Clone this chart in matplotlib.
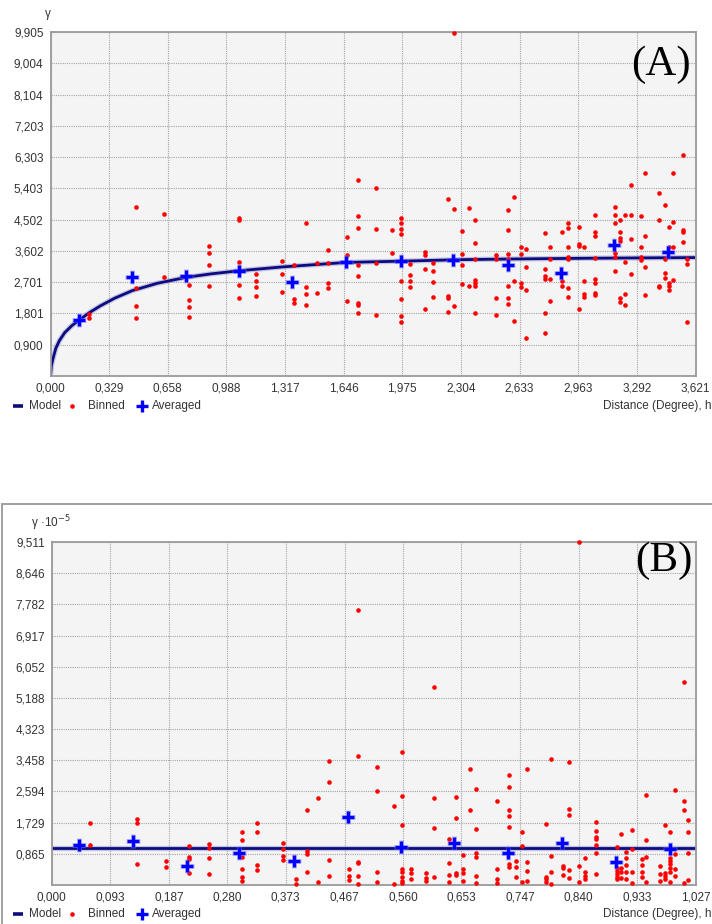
import matplotlib
matplotlib.use('Agg')
import matplotlib.pyplot as plt
import numpy as np
from matplotlib.lines import Line2D
from matplotlib.patches import Rectangle

plt.rcParams['font.family'] = ['Liberation Sans', 'DejaVu Sans']

# ---------------- Panel A data ----------------
xticks_a = [0.000, 0.329, 0.658, 0.988, 1.317, 1.646, 1.975, 2.304, 2.633, 2.963, 3.292, 3.621]
yticks_a = [0.900, 1.801, 2.701, 3.602, 4.502, 5.403, 6.303, 7.203, 8.104, 9.004, 9.905]

model_a_h = [0, 0.005, 0.015, 0.03, 0.05, 0.08, 0.12, 0.161, 0.22, 0.28, 0.36, 0.46, 0.6,
             0.761, 0.9, 1.058, 1.3, 1.659, 2.0, 2.3, 2.6, 3.0, 3.3, 3.621]
model_a_g = [0, 0.30, 0.52, 0.80, 1.02, 1.25, 1.45, 1.61, 1.83, 2.02, 2.24, 2.46, 2.67,
             2.84, 2.94, 3.03, 3.14, 3.27, 3.31, 3.35, 3.37, 3.39, 3.40, 3.41]

avg_a_h = [0.161, 0.460, 0.761, 1.058, 1.358, 1.659, 1.966, 2.261, 2.569, 2.866, 3.165, 3.466]
avg_a_g = [1.603, 2.850, 2.870, 3.023, 2.697, 3.292, 3.321, 3.350, 3.196, 2.975, 3.771, 3.580]

binned_a_h = [0.217, 0.482, 0.639, 0.777, 0.889, 1.061, 1.155, 1.302, 1.369, 1.437, 1.498,
              1.558, 1.667, 1.725, 1.827, 1.919, 1.969, 2.018, 2.102, 2.145, 2.231, 2.266,
              2.309, 2.347, 2.384, 2.500, 2.567, 2.603, 2.640, 2.672, 2.776, 2.806, 2.873,
              2.903, 2.965, 2.997, 3.057, 3.171, 3.199, 3.227, 3.258, 3.313, 3.339, 3.417,
              3.449, 3.471, 3.496, 3.552, 3.576]
binned_a_g = [
    [1.794, 1.679],
    [4.857, 2.542, 2.006, 1.661],
    [4.673, 2.850],
    [2.629, 2.197, 1.978, 1.699],
    [3.734, 3.541, 3.196, 2.591],
    [4.540, 4.490, 3.273, 2.620, 2.237],
    [2.937, 2.735, 2.571, 2.294],
    [3.320, 2.937, 2.409],
    [3.196, 2.217, 2.093],
    [4.396, 2.571, 2.352, 2.044],
    [3.262, 2.381],
    [3.636, 3.262, 2.669, 2.534],
    [4.011, 3.484, 2.159],
    [5.643, 4.606, 4.261, 3.196, 2.879, 2.102, 2.053, 1.805],
    [5.404, 4.232, 3.262, 1.756],
    [4.203, 3.532],
    [4.540, 4.414, 4.232, 4.079, 2.735, 2.225, 1.727, 1.563],
    [3.224, 2.908, 2.744, 2.571],
    [3.580, 3.475, 3.071, 1.939],
    [3.262, 3.032, 2.716, 2.265],
    [5.087, 2.294, 2.254, 1.843],
    [9.885, 4.797, 2.015],
    [4.184, 3.513, 3.196, 2.640],
    [4.828, 2.600],
    [4.491, 3.829, 3.377, 2.764, 2.669, 2.600, 1.814],
    [3.484, 3.358, 2.254, 1.756],
    [4.779, 4.203, 3.513, 3.358, 2.600, 2.254, 2.073],
    [5.145, 2.735, 1.592],
    [3.723, 3.513, 2.669, 2.554],
    [3.648, 3.138, 2.476, 1.094],
    [4.108, 3.071, 2.879, 2.783, 1.823, 1.229],
    [3.723, 3.358, 2.783, 2.159],
    [4.146, 2.956, 2.735, 2.600],
    [4.396, 4.252, 3.723, 3.436, 3.358, 2.542, 2.283],
    [4.280, 3.800, 3.751, 1.919],
    [3.723, 2.735, 2.352, 2.283],
    [4.635, 4.155, 4.040, 3.388, 2.793, 2.687, 2.399, 2.332],
    [4.875, 4.635, 4.396, 3.532, 3.436, 3.032],
    [4.491, 4.146, 3.964, 3.896, 2.254, 2.139],
    [4.635, 3.292, 2.352, 2.044],
    [5.487, 4.635, 3.953, 2.937],
    [4.606, 3.723, 3.436, 3.340],
    [5.835, 4.040, 3.138, 2.323],
    [5.279, 4.491, 2.600, 2.571],
    [4.923, 3.358, 2.975, 2.831],
    [4.300, 3.723, 2.669, 2.600, 2.476],
    [5.835, 4.443, 3.723, 2.764],
    [6.363, 4.203, 4.146, 3.867],
    [3.358, 3.224, 1.563],
]

# ---------------- Panel B data (x 10^-5) ----------------
xticks_b = [0.000, 0.093, 0.187, 0.280, 0.373, 0.467, 0.560, 0.653, 0.747, 0.840, 0.933, 1.027]
yticks_b = [0.865, 1.729, 2.594, 3.458, 4.323, 5.188, 6.052, 6.917, 7.782, 8.646, 9.511]

model_b_h = [0.0, 1.027]
model_b_g = [1.03, 1.03]

avg_b_h = [0.044, 0.129, 0.215, 0.299, 0.387, 0.472, 0.557, 0.641, 0.728, 0.813, 0.899, 0.985]
avg_b_g = [1.109, 1.220, 0.535, 0.896, 0.674, 1.894, 1.062, 1.156, 0.896, 1.165, 0.646, 0.998]

binned_b_h = [0.061, 0.136, 0.182, 0.219, 0.251, 0.303, 0.328, 0.369, 0.389, 0.407, 0.424,
              0.442, 0.474, 0.489, 0.519, 0.545, 0.559, 0.572, 0.596, 0.609, 0.633, 0.644,
              0.656, 0.666, 0.677, 0.710, 0.729, 0.740, 0.750, 0.758, 0.788, 0.796, 0.815,
              0.824, 0.841, 0.850, 0.868, 0.901, 0.908, 0.916, 0.925, 0.941, 0.947, 0.970,
              0.978, 0.985, 0.993, 1.008, 1.015]
binned_b_g = [
    [1.711, 1.101],
    [1.822, 1.711, 0.591],
    [0.657, 0.499],
    [1.081, 0.785, 0.713, 0.324],
    [1.137, 1.018, 0.740, 0.305],
    [1.470, 1.257, 0.785, 0.444, 0.213, 0.102],
    [1.711, 1.470, 0.564, 0.407],
    [1.165, 1.007, 0.813, 0.693],
    [0.175, 0.020],
    [2.071, 0.934, 0.860, 0.352],
    [2.404, 0.075],
    [3.430, 2.856, 0.685, 0.241],
    [0.444, 0.258, 0.147],
    [7.634, 3.586, 0.646, 0.602, 0.258, 0.028],
    [3.281, 2.615, 0.352, 0.075],
    [2.199, 0.020],
    [3.680, 2.476, 1.655, 0.435, 0.369, 0.230, 0.111, 0.047],
    [0.435, 0.342, 0.175],
    [0.342, 0.194, 0.102],
    [5.491, 2.404, 1.590, 0.230],
    [1.285, 0.619, 0.286, 0.075],
    [2.432, 1.867, 0.324, 0.269],
    [0.823, 0.452, 0.342, 0.102],
    [3.217, 2.071],
    [2.670, 1.553, 0.879, 0.785, 0.258, 0.047],
    [2.338, 0.444, 0.175, 0.047],
    [3.042, 2.709, 2.071, 1.922, 1.617, 0.582, 0.508],
    [0.657, 0.499, 0.230],
    [1.470, 1.090, 0.075],
    [3.226, 0.629, 0.380, 0.102],
    [1.700, 0.230, 0.158, 0.075],
    [3.494, 0.804, 0.352, 0.020],
    [0.535, 0.471, 0.286],
    [3.402, 2.107, 1.949, 0.416, 0.194],
    [9.503, 0.527, 0.075],
    [0.749, 0.360, 0.258, 0.175],
    [1.747, 1.506, 1.331, 1.267, 1.109, 0.887, 0.313],
    [1.054, 0.471, 0.388, 0.305, 0.221, 0.166],
    [1.414, 0.471, 0.352, 0.194],
    [0.915, 0.740, 0.555, 0.369, 0.175],
    [1.525, 0.990, 0.352, 0.047],
    [0.713, 0.555, 0.352, 0.230],
    [2.496, 1.239, 0.768, 0.075],
    [0.527, 0.305, 0.102],
    [1.655, 0.324, 0.250, 0.175],
    [1.470, 0.757, 0.665, 0.573, 0.462, 0.369, 0.075],
    [2.643, 0.868, 0.452, 0.258],
    [5.621, 2.338, 2.071, 0.047],
    [1.794, 1.470, 0.896, 0.139],
]

# ---------------- Figure ----------------
W, H = 712, 924
fig = plt.figure(figsize=(W / 100, H / 100), dpi=100)
fig.patch.set_facecolor('white')

def box(l, t, r, b):
    return [l / W, 1 - b / H, (r - l) / W, (b - t) / H]

axA = fig.add_axes(box(50.5, 32, 695.5, 376))
axB = fig.add_axes(box(51.7, 542, 696, 885))

TXT = '#333333'
FS = 8.5

def fmt(v):
    return f'{v:.3f}'.replace('.', ',')

def expand(hs, gs):
    xs, ys = [], []
    for h, g in zip(hs, gs):
        xs.extend([h] * len(g))
        ys.extend(g)
    return np.array(xs), np.array(ys)

def draw(ax, xt, yt, mh, mg, bh, bg, ah, ag):
    ax.set_facecolor('#f4f4f4')
    ax.set_xlim(xt[0], xt[-1])
    ax.set_ylim(0, yt[-1])
    ax.set_xticks(xt)
    ax.set_xticklabels([fmt(v) for v in xt])
    ax.set_yticks(yt)
    ax.set_yticklabels([fmt(v) for v in yt])
    ax.tick_params(axis='both', length=0, labelsize=FS, labelcolor=TXT)
    ax.tick_params(axis='x', pad=4.5)
    ax.tick_params(axis='y', pad=5)
    ax.grid(True, color='#a5a5a5', linestyle=(0, (1, 1)), linewidth=0.8)
    ax.set_axisbelow(True)
    for s in ax.spines.values():
        s.set_color('#9a9a9a')
        s.set_linewidth(1.3)
    # model
    ax.plot(mh, mg, color='#6a6ac0', lw=3.8, alpha=0.35, zorder=2, solid_capstyle='butt')
    ax.plot(mh, mg, color='#0c0c80', lw=2.0, zorder=2.1, solid_capstyle='butt')
    # binned
    x, y = expand(bh, bg)
    ax.plot(x, y, ls='none', marker='o', ms=3.3, color='#ff0000', mec='none', zorder=3, clip_on=False)
    # averaged
    ax.plot(ah, ag, ls='none', marker='+', ms=10, mew=3.6, color='#8080ff', alpha=0.45, zorder=4)
    ax.plot(ah, ag, ls='none', marker='+', ms=9, mew=2.4, color='#0000ff', zorder=4.1)

draw(axA, xticks_a, yticks_a, model_a_h, model_a_g, binned_a_h, binned_a_g, avg_a_h, avg_a_g)
draw(axB, xticks_b, yticks_b, model_b_h, model_b_g, binned_b_h, binned_b_g, avg_b_h, avg_b_g)

axA.text(0.9926, 0.905, '(A)', transform=axA.transAxes, ha='right', va='center',
         fontsize=31, family='Liberation Serif', color='black', zorder=6)
axB.text(0.995, 0.945, '(B)', transform=axB.transAxes, ha='right', va='center',
         fontsize=31, family='Liberation Serif', color='black', zorder=6)

# y-axis titles
fig.text(48 / W, 1 - 14 / H, 'γ', ha='center', va='center', fontsize=FS, color=TXT)
fig.text(31 / W, 1 - 523 / H, 'γ ·10$^{-5}$', ha='left', va='center', fontsize=FS, color=TXT)

# frame around panel B
fig.add_artist(Rectangle((2 / W, -0.01), 1.0, (1 - 504 / H) + 0.01, transform=fig.transFigure,
                         fill=False, ec='#a0a0a0', lw=1.4))

# legends
def legend(ypx):
    y = 1 - ypx / H
    fig.add_artist(Line2D([13 / W, 23.5 / W], [y, y], color='#0c0c80', lw=2.6, solid_capstyle='butt'))
    fig.text(29 / W, y, 'Model', ha='left', va='center', fontsize=FS, color=TXT)
    fig.add_artist(Line2D([71.5 / W], [y], ls='none', marker='o', ms=3.3, color='#ff0000', mec='none'))
    fig.text(88 / W, y, 'Binned', ha='left', va='center', fontsize=FS, color=TXT)
    fig.add_artist(Line2D([142 / W], [y], ls='none', marker='+', ms=9, mew=2.4, color='#0000ff'))
    fig.text(151.5 / W, y, 'Averaged', ha='left', va='center', fontsize=FS, color=TXT)
    fig.text(711.5 / W, y, 'Distance (Degree), h', ha='right', va='center', fontsize=FS, color=TXT)

legend(406)
legend(914)

fig.savefig('out.png', dpi=100, facecolor='white')
